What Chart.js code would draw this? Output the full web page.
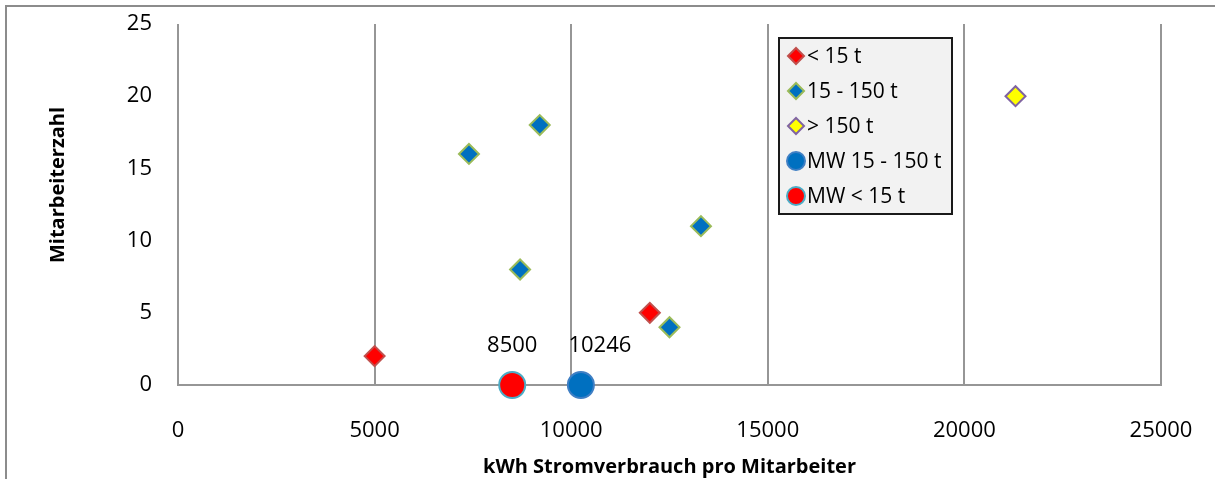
<!DOCTYPE html>
<html>
<head>
<meta charset="utf-8">
<script src="https://cdn.jsdelivr.net/npm/chart.js@4/dist/chart.umd.min.js"></script>
<style>
  html, body { margin: 0; padding: 0; background: #fff; }
  #wrap { position: relative; width: 1215px; height: 479px; overflow: hidden; }
  #frame { position: absolute; left: 5px; top: 5px; width: 1300px; height: 600px;
           border-left: 2px solid #8c8c8c; border-top: 2px solid #8c8c8c; }
  canvas { position: absolute; left: 0; top: 0; }
</style>
</head>
<body>
<div id="wrap">
  <div id="frame"></div>
  <canvas id="c" width="1215" height="479"></canvas>
</div>
<script>
// Stromverbrauch je Mitarbeiter (kWh) gegen Mitarbeiterzahl, nach Betriebsgröße
const SMALL_X = [5000, 12000];
const SMALL_Y = [2, 5];
const MID_X = [7400, 9200, 8700, 13300, 12500];
const MID_Y = [16, 18, 8, 11, 4];
const LARGE_X = [21300];
const LARGE_Y = [20];
const MEAN_MID_X = [10246];
const MEAN_MID_Y = [0];
const MEAN_SMALL_X = [8500];
const MEAN_SMALL_Y = [0];

const X_TICKS = [0, 5000, 10000, 15000, 20000, 25000];
const Y_TICKS = [0, 5, 10, 15, 20, 25];

const FONT = "'Open Sans', 'Noto Sans', sans-serif";
const GRID = '#969696';
const NONE = 'rgba(0,0,0,0)';

const pts = (xs, ys) => xs.map((x, i) => ({ x, y: ys[i] }));

const datasets = [
  { label: '< 15 t', data: pts(SMALL_X, SMALL_Y), pointStyle: 'rectRot', pointRadius: 10,
    backgroundColor: '#ff0000', borderColor: '#c0504d', borderWidth: 2, clip: false },
  { label: '15 - 150 t', data: pts(MID_X, MID_Y), pointStyle: 'rectRot', pointRadius: 10,
    backgroundColor: '#0070c0', borderColor: '#9bbb59', borderWidth: 2, clip: false },
  { label: '> 150 t', data: pts(LARGE_X, LARGE_Y), pointStyle: 'rectRot', pointRadius: 10,
    backgroundColor: '#ffff00', borderColor: '#8064a2', borderWidth: 2, clip: false },
  { label: 'MW 15 - 150 t', data: pts(MEAN_MID_X, MEAN_MID_Y), pointStyle: 'circle', pointRadius: 13,
    backgroundColor: '#0070c0', borderColor: '#3f7fc4', borderWidth: 2, clip: false,
    valueLabel: true, labelDx: 19 },
  { label: 'MW < 15 t', data: pts(MEAN_SMALL_X, MEAN_SMALL_Y), pointStyle: 'circle', pointRadius: 13,
    backgroundColor: '#ff0000', borderColor: '#4bacc6', borderWidth: 2, clip: false,
    valueLabel: true, labelDx: 0 }
];

// Werte über den Mittelwert-Punkten
const valueLabels = {
  id: 'valueLabels',
  afterDatasetsDraw(chart) {
    const ctx = chart.ctx;
    ctx.save();
    ctx.font = '22px ' + FONT;
    ctx.fillStyle = '#000';
    ctx.textAlign = 'center';
    ctx.textBaseline = 'middle';
    chart.data.datasets.forEach((ds, di) => {
      if (!ds.valueLabel) return;
      chart.getDatasetMeta(di).data.forEach((el, i) => {
        ctx.fillText(String(ds.data[i].x), el.x + ds.labelDx, el.y - 39);
      });
    });
    ctx.restore();
  }
};

// y-Achsentitel etwas oberhalb der Mitte, wie im Excel-Layout
const yTitle = {
  id: 'yTitle',
  afterDraw(chart) {
    const ctx = chart.ctx;
    ctx.save();
    ctx.translate(58, 185);
    ctx.rotate(-Math.PI / 2);
    ctx.font = 'bold 20px ' + FONT;
    ctx.fillStyle = '#000';
    ctx.textAlign = 'center';
    ctx.textBaseline = 'middle';
    ctx.fillText('Mitarbeiterzahl', 0, 0);
    ctx.restore();
  }
};

// Legende als Kasten innerhalb der Zeichenfläche
const boxLegend = {
  id: 'boxLegend',
  afterDraw(chart) {
    const ctx = chart.ctx;
    const a = chart.chartArea;
    const bx = a.left + 601, by = a.top + 14, bw = 173, bh = 176;
    ctx.save();
    ctx.fillStyle = '#f2f2f2';
    ctx.fillRect(bx, by, bw, bh);
    ctx.strokeStyle = '#1a1a1a';
    ctx.lineWidth = 2;
    ctx.strokeRect(bx, by, bw, bh);
    ctx.font = '21px ' + FONT;
    ctx.textBaseline = 'middle';
    ctx.textAlign = 'left';
    chart.data.datasets.forEach((ds, i) => {
      const cy = by + 18 + i * 35;
      const r = ds.pointStyle === 'circle' ? 9 : 8;
      ctx.fillStyle = ds.backgroundColor;
      ctx.strokeStyle = ds.borderColor;
      ctx.lineWidth = 2;
      Chart.helpers.drawPoint(ctx, { pointStyle: ds.pointStyle, radius: r, borderWidth: 2 }, bx + 17, cy);
      ctx.fillStyle = '#000';
      ctx.fillText(ds.label, bx + 28, cy + 1);
    });
    ctx.restore();
  }
};

new Chart(document.getElementById('c'), {
  type: 'scatter',
  data: { datasets },
  options: {
    responsive: false,
    animation: false,
    layout: { padding: { left: 0, right: 54, top: 24, bottom: 0 } },
    plugins: { legend: { display: false }, tooltip: { enabled: false } },
    scales: {
      x: {
        type: 'linear', min: 0, max: 25000,
        afterFit(s) { s.height = 94; },
        afterBuildTicks(s) { s.ticks = X_TICKS.map(v => ({ value: v })); },
        grid: { color: GRID, lineWidth: 2, drawTicks: true, tickLength: 33, tickColor: NONE },
        border: { display: true, color: GRID, width: 2 },
        ticks: { color: '#000', font: { family: FONT, size: 22 }, padding: 0, maxRotation: 0,
                 callback: v => String(v) },
        title: { display: true, text: 'kWh Stromverbrauch pro Mitarbeiter', color: '#000',
                 font: { family: FONT, size: 20, weight: 'bold' }, padding: { top: 0, bottom: 0 } }
      },
      y: {
        type: 'linear', min: 0, max: 25,
        afterFit(s) { s.width = 178; },
        afterBuildTicks(s) { s.ticks = Y_TICKS.map(v => ({ value: v })); },
        grid: { display: true, drawOnChartArea: false, drawTicks: true, tickLength: 26, tickColor: NONE, color: NONE },
        border: { display: false },
        ticks: { color: '#000', font: { family: FONT, size: 22 }, padding: 0 },
        title: { display: false }
      }
    }
  },
  plugins: [valueLabels, boxLegend, yTitle]
});
</script>
</body>
</html>
